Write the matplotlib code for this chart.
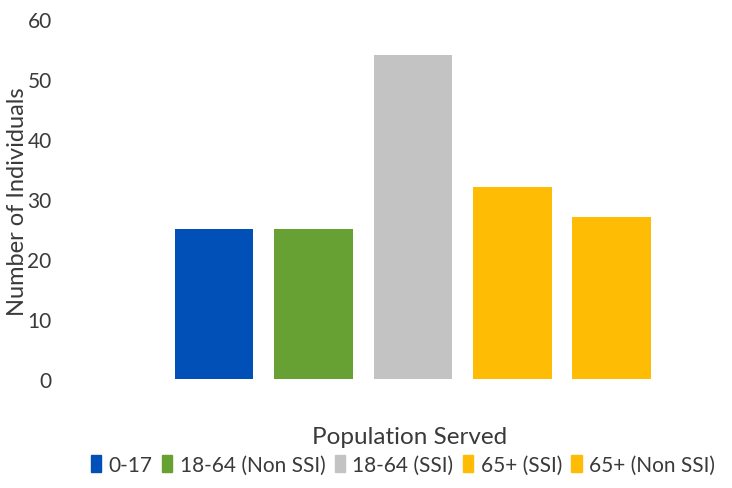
import matplotlib.pyplot as plt
from matplotlib.patches import Patch

plt.rcParams['font.family'] = ['Lato', 'DejaVu Sans']

groups = ['0-17', '18-64 (Non SSI)', '18-64 (SSI)', '65+ (SSI)', '65+ (Non SSI)']
counts = [25, 25, 54, 32, 27]
colors = ['#0050B8', '#68A133', '#C3C3C3', '#FFBC05', '#FFBC05']

fig = plt.figure(figsize=(7.32, 4.89), dpi=100)
ax = fig.add_axes([60/732, 109/489, 670/732, 360/489])

x = list(range(len(groups)))
ax.bar(x, counts, width=0.79, color=colors)

ax.set_ylim(0, 60)
ax.set_xlim(-1.55, 5.19)
ax.set_yticks(range(0, 61, 10))
ax.set_xticks([])
ax.tick_params(axis='y', length=0, pad=6, labelsize=15, labelcolor='#3a3a3a')
for s in ax.spines.values():
    s.set_visible(False)

fig.text(18/732, 1 - 202/489, 'Number of Individuals', rotation=90,
         ha='center', va='center', fontsize=17, color='#3a3a3a')
fig.text(410/732, 1 - 438/489, 'Population Served', ha='center', va='center',
         fontsize=17.5, color='#3a3a3a')

handles = [Patch(color=c, label=g) for c, g in zip(colors, groups)]
fig.legend(handles=handles, loc='center', bbox_to_anchor=(403/732, 1 - 466/489),
           ncol=5, frameon=False, fontsize=15, labelcolor='#3a3a3a',
           handlelength=0.5, handleheight=0.9, handletextpad=0.35, columnspacing=0.45,
           borderpad=0, borderaxespad=0)

fig.savefig('out.png', dpi=100)
